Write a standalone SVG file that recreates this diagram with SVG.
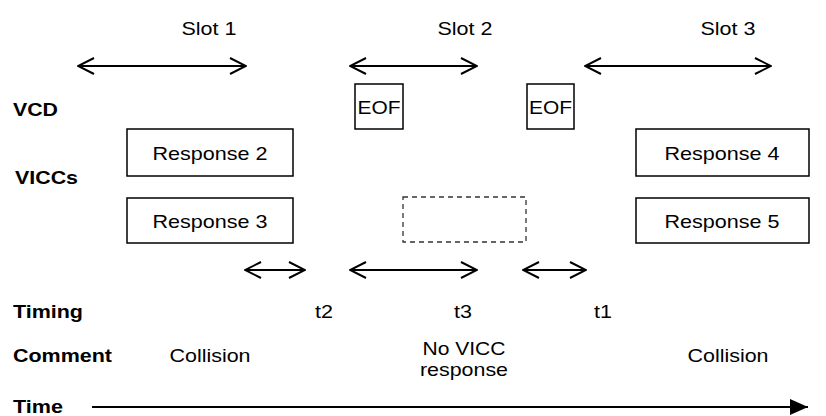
<svg xmlns="http://www.w3.org/2000/svg" width="826" height="416" viewBox="0 0 826 416">
<defs>
<style>
.t{font-family:"Liberation Sans",Arial,sans-serif;font-size:19px;fill:#000;text-anchor:middle}
.b{font-family:"Liberation Sans",Arial,sans-serif;font-size:19px;font-weight:bold;fill:#000}
.box{fill:#fff;stroke:#000;stroke-width:1.5}
.dash{fill:none;stroke:#333;stroke-width:1.3;stroke-dasharray:5,4}
.dbl{fill:none;stroke:#000;stroke-width:2}
</style>
<marker id="open" viewBox="0 0 18 18" refX="17" refY="9" markerWidth="18" markerHeight="18" markerUnits="userSpaceOnUse" orient="auto-start-reverse">
<path d="M1,1 L17,9 L1,17" fill="none" stroke="#000" stroke-width="2"/>
</marker>
<marker id="fill" viewBox="0 0 18 16" refX="18" refY="8" markerWidth="18" markerHeight="16" markerUnits="userSpaceOnUse" orient="auto">
<path d="M0,0 L18,8 L0,16 Z" fill="#000"/>
</marker>
</defs>
<rect width="826" height="416" fill="#fff"/>
<g id="labels">
<text class="t" x="209" y="35" textLength="55" lengthAdjust="spacingAndGlyphs">Slot 1</text>
<text class="t" x="465" y="35" textLength="55" lengthAdjust="spacingAndGlyphs">Slot 2</text>
<text class="t" x="728" y="35" textLength="55" lengthAdjust="spacingAndGlyphs">Slot 3</text>
<text class="b" x="13" y="116" textLength="45" lengthAdjust="spacingAndGlyphs">VCD</text>
<text class="b" x="15" y="184" textLength="63" lengthAdjust="spacingAndGlyphs">VICCs</text>
<text class="b" x="13" y="318" textLength="70" lengthAdjust="spacingAndGlyphs">Timing</text>
<text class="b" x="13" y="362" textLength="99" lengthAdjust="spacingAndGlyphs">Comment</text>
<text class="b" x="13" y="413" textLength="50" lengthAdjust="spacingAndGlyphs">Time</text>
<text class="t" x="324" y="318" textLength="18" lengthAdjust="spacingAndGlyphs">t2</text>
<text class="t" x="463" y="318" textLength="18" lengthAdjust="spacingAndGlyphs">t3</text>
<text class="t" x="603" y="318" textLength="18" lengthAdjust="spacingAndGlyphs">t1</text>
<text class="t" x="210" y="362" textLength="81" lengthAdjust="spacingAndGlyphs">Collision</text>
<text class="t" x="464" y="355" textLength="83" lengthAdjust="spacingAndGlyphs">No VICC</text>
<text class="t" x="464" y="376" textLength="88" lengthAdjust="spacingAndGlyphs">response</text>
<text class="t" x="728" y="362" textLength="81" lengthAdjust="spacingAndGlyphs">Collision</text>
</g>
<g id="eof1"><rect class="box" x="355" y="84" width="48" height="45"/><text class="t" x="379" y="114" textLength="43" lengthAdjust="spacingAndGlyphs">EOF</text></g>
<g id="eof2"><rect class="box" x="527" y="84" width="47" height="45"/><text class="t" x="550.5" y="114" textLength="43" lengthAdjust="spacingAndGlyphs">EOF</text></g>
<g id="response2"><rect class="box" x="127" y="129" width="166" height="47"/><text class="t" x="210" y="160" textLength="115" lengthAdjust="spacingAndGlyphs">Response 2</text></g>
<g id="response3"><rect class="box" x="127" y="198" width="166" height="45"/><text class="t" x="210" y="228" textLength="115" lengthAdjust="spacingAndGlyphs">Response 3</text></g>
<g id="response4"><rect class="box" x="636" y="129" width="173" height="47"/><text class="t" x="722" y="160" textLength="115" lengthAdjust="spacingAndGlyphs">Response 4</text></g>
<g id="response5"><rect class="box" x="636" y="198" width="173" height="45"/><text class="t" x="722" y="228" textLength="115" lengthAdjust="spacingAndGlyphs">Response 5</text></g>
<g id="empty"><rect class="dash" x="403" y="197" width="123" height="45"/></g>
<g id="connectors">
<line class="dbl" x1="78" y1="66" x2="246" y2="66" marker-start="url(#open)" marker-end="url(#open)"/>
<line class="dbl" x1="350" y1="66" x2="477" y2="66" marker-start="url(#open)" marker-end="url(#open)"/>
<line class="dbl" x1="585" y1="66" x2="771" y2="66" marker-start="url(#open)" marker-end="url(#open)"/>
<line class="dbl" x1="245" y1="270" x2="305" y2="270" marker-start="url(#open)" marker-end="url(#open)"/>
<line class="dbl" x1="350" y1="270" x2="477" y2="270" marker-start="url(#open)" marker-end="url(#open)"/>
<line class="dbl" x1="523" y1="270" x2="586" y2="270" marker-start="url(#open)" marker-end="url(#open)"/>
<line x1="92" y1="407" x2="808" y2="407" stroke="#000" stroke-width="2" marker-end="url(#fill)"/>
</g>
</svg>
